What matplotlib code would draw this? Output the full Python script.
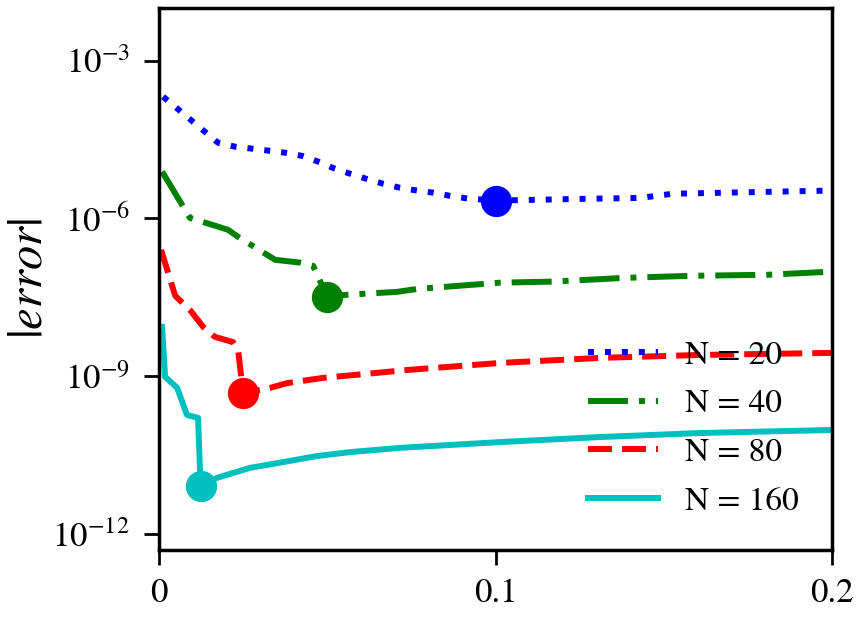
import matplotlib
matplotlib.use("Agg")
import matplotlib.pyplot as plt
from matplotlib.ticker import NullLocator

plt.rcParams['font.family'] = ['STIXGeneral', 'DejaVu Serif']
plt.rcParams['mathtext.fontset'] = 'stix'
plt.rcParams['lines.scale_dashes'] = False

# (x, log10|error|)
x20 = [0.0012, 0.0175, 0.0226, 0.0272, 0.0324, 0.0374, 0.0425, 0.0473, 0.0517, 0.0568,
       0.0618, 0.0666, 0.0716, 0.0767, 0.0815, 0.0865, 0.0916, 0.1, 0.127, 0.143, 0.1527, 0.1997]
e20 = [-3.685, -4.56, -4.636, -4.67, -4.71, -4.75, -4.81, -4.92, -5.04, -5.15,
       -5.25, -5.34, -5.416, -5.47, -5.51, -5.57, -5.62, -5.66, -5.626, -5.61, -5.53, -5.47]

x40 = [0.0009, 0.0092, 0.0205, 0.0235, 0.0345, 0.0420, 0.0458, 0.05, 0.0559, 0.0707,
       0.0767, 0.1013, 0.117, 0.138, 0.158, 0.181, 0.2]
e40 = [-5.11, -5.99, -6.215, -6.35, -6.786, -6.84, -6.90, -7.49, -7.45, -7.395,
       -7.34, -7.22, -7.20, -7.13, -7.09, -7.07, -7.01]

x80 = [0.0006, 0.0048, 0.0092, 0.0131, 0.0166, 0.022, 0.0235, 0.025, 0.033, 0.038,
       0.0487, 0.0588, 0.0737, 0.1013, 0.1311, 0.1608, 0.2]
e80 = [-6.596, -7.47, -7.74, -8.06, -8.25, -8.35, -8.50, -9.32, -9.22, -9.13,
       -9.03, -8.97, -8.88, -8.746, -8.65, -8.594, -8.555]

x160 = [0.0009, 0.0018, 0.0054, 0.0083, 0.0116, 0.0122, 0.0125, 0.0172, 0.027, 0.0369,
        0.047, 0.0568, 0.0716, 0.1013, 0.1311, 0.1608, 0.2]
e160 = [-8.06, -9.01, -9.22, -9.735, -9.79, -10.84, -11.09, -10.93, -10.74, -10.63,
        -10.515, -10.44, -10.36, -10.25, -10.154, -10.078, -10.02]

series = [
    ("N = 20", x20, e20, "blue", (0, (4.3, 7.9))),
    ("N = 40", x40, e40, "green", (0, (28.8, 7.9, 4.3, 7.9))),
    ("N = 80", x80, e80, "red", (0, (17.3, 7.2))),
    ("N = 160", x160, e160, "c", "-"),
]

fig = plt.figure(figsize=(8.62, 6.2), dpi=100)
ax = fig.add_axes([0.1845, 0.1129, 0.7807, 0.8742])

for name, xs, es, col, ls in series:
    ys = [10 ** e for e in es]
    ax.semilogy(xs, ys, color=col, ls=ls, lw=4.3, label=name)
    i = ys.index(min(ys))
    ax.plot(xs[i], ys[i], 'o', color=col, ms=21.5)

ax.set_xlim(0, 0.2)
ax.set_ylim(5e-13, 1e-2)
ax.set_xticks([0, 0.1, 0.2])
ax.set_xticklabels(["0", "0.1", "0.2"])
ax.set_yticks([1e-12, 1e-9, 1e-6, 1e-3])
ax.yaxis.set_minor_locator(NullLocator())
ax.tick_params(labelsize=25, length=11, width=2)
ax.tick_params(axis='y', pad=10)
ax.tick_params(axis='x', pad=9)
for s in ax.spines.values():
    s.set_linewidth(2.5)
ax.set_ylabel(r"$|error|$", fontsize=35, labelpad=0)

ax.legend(loc='lower right', frameon=False, fontsize=24, handlelength=2.1,
          handletextpad=0.8, labelspacing=0.55, borderaxespad=0.6)

fig.savefig("out.png", dpi=100)
